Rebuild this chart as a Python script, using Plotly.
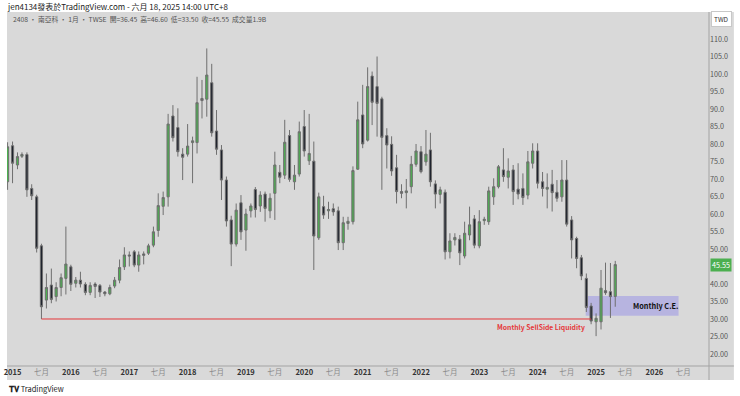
import plotly.graph_objects as go
import pandas as pd

# ---------------- data (monthly OHLC, 2408 南亞科) ----------------
opens = [69.2, 79.5, 74.0, 76.5, 77.0, 67.3, 64.9, 50.9, 35.4, 39.7,
         36.4, 39.0, 41.6, 44.9, 40.2, 41.1, 39.9, 37.6, 40.0, 39.6,
         37.7, 37.2, 39.4, 41.1, 44.9, 48.3, 49.2, 45.4, 48.6, 48.8,
         51.1, 55.3, 62.2, 64.9, 88.0, 84.7, 77.1, 77.1, 80.4, 80.4,
         93.0, 92.8, 97.5, 83.7, 78.3, 69.7, 58.3, 51.4, 63.2, 55.4,
         60.9, 67.0, 62.3, 65.7, 60.9, 65.9, 71.9, 71.1, 82.4, 69.2,
         71.4, 85.0, 75.2, 75.1, 53.2, 62.1, 60.9, 61.5, 60.9, 51.8,
         57.3, 57.8, 72.8, 88.3, 81.1, 99.4, 96.4, 92.9, 82.4, 79.9,
         73.2, 66.4, 66.1, 67.8, 74.2, 77.8, 74.9, 78.3, 68.6, 65.6,
         66.2, 49.2, 52.6, 52.8, 48.0, 54.0, 58.6, 50.9, 58.1, 57.8,
         64.9, 67.8, 72.6, 70.5, 72.6, 67.1, 67.3, 65.4, 74.5, 78.0,
         69.2, 67.1, 68.5, 66.2, 64.9, 69.7, 58.3, 53.0, 47.5, 41.6,
         33.7, 29.2, 29.2, 38.1, 37.8, 36.45]
highs = [80.5, 80.7, 77.6, 77.6, 77.6, 68.5, 65.5, 51.5, 43.0, 44.4,
         40.5, 43.0, 56.4, 45.5, 42.0, 43.5, 40.5, 40.5, 40.5, 40.0,
         38.0, 39.8, 42.0, 47.0, 50.5, 49.3, 49.7, 49.3, 49.3, 51.5,
         56.4, 65.9, 66.4, 88.6, 91.1, 90.2, 78.8, 85.7, 82.1, 99.2,
         98.3, 107.3, 102.9, 89.7, 79.7, 70.7, 59.5, 63.0, 65.4, 61.5,
         63.0, 67.7, 66.5, 66.4, 65.9, 77.8, 74.0, 86.9, 84.0, 74.0,
         86.4, 89.7, 88.6, 80.7, 66.1, 65.2, 63.5, 63.0, 62.1, 59.2,
         59.2, 73.6, 92.1, 96.9, 101.9, 100.7, 105.0, 93.5, 84.5, 82.2,
         76.9, 68.5, 70.0, 76.6, 80.0, 79.4, 84.0, 83.2, 69.6, 67.8,
         67.0, 54.5, 54.5, 54.0, 57.8, 62.1, 59.7, 61.1, 59.2, 67.8,
         70.2, 74.0, 78.8, 75.9, 74.0, 74.5, 71.6, 78.0, 80.2, 80.2,
         72.0, 71.6, 72.6, 69.7, 75.4, 75.4, 59.4, 53.5, 48.3, 43.0,
         34.6, 31.6, 44.0, 46.1, 46.0, 46.6]
lows = [66.9, 68.8, 72.8, 76.0, 64.9, 64.0, 49.0, 30.0, 33.0, 34.5,
        35.0, 36.5, 37.0, 38.0, 39.0, 39.0, 36.8, 36.8, 36.0, 36.3,
        36.5, 36.8, 38.8, 40.2, 44.0, 45.0, 44.8, 43.5, 45.6, 48.3,
        50.5, 53.5, 59.7, 62.1, 80.7, 76.4, 69.7, 76.4, 68.8, 77.3,
        87.3, 87.8, 82.1, 76.9, 64.0, 56.4, 45.1, 50.7, 52.6, 49.5,
        59.0, 59.0, 60.6, 57.8, 58.8, 58.3, 68.8, 70.0, 69.2, 66.9,
        70.7, 76.4, 74.0, 44.0, 52.6, 58.6, 58.6, 59.5, 49.7, 49.7,
        55.5, 57.0, 72.6, 78.8, 80.7, 85.4, 82.1, 66.9, 73.0, 70.9,
        63.0, 64.5, 61.6, 65.9, 73.5, 71.6, 73.8, 67.8, 61.6, 63.0,
        47.0, 47.3, 51.0, 45.4, 47.3, 52.5, 50.2, 50.2, 56.9, 56.9,
        62.6, 67.3, 69.2, 67.3, 62.6, 64.2, 62.6, 64.2, 73.0, 67.3,
        65.0, 61.6, 60.7, 63.5, 63.5, 56.4, 47.3, 44.5, 41.1, 32.0,
        28.5, 25.1, 27.0, 36.9, 30.3, 33.5]
closes = [79.2, 74.5, 76.4, 77.0, 66.9, 65.2, 50.2, 33.5, 39.0, 35.6,
          39.0, 41.8, 45.7, 39.9, 41.1, 40.0, 37.6, 39.6, 39.3, 37.7,
          37.2, 39.0, 41.1, 44.7, 48.3, 48.0, 45.4, 48.3, 48.2, 50.9,
          54.9, 62.4, 64.7, 85.7, 81.8, 77.8, 76.2, 79.4, 80.9, 91.8,
          92.4, 99.7, 83.2, 78.5, 69.7, 58.0, 51.4, 61.1, 54.9, 60.0,
          62.3, 61.3, 65.4, 61.6, 64.5, 74.0, 70.5, 80.5, 69.9, 71.1,
          83.5, 78.0, 77.3, 53.7, 64.9, 59.7, 61.3, 60.6, 51.8, 57.5,
          57.9, 72.4, 86.9, 80.0, 96.4, 91.9, 91.6, 81.9, 79.7, 72.3,
          66.4, 65.9, 66.6, 74.2, 78.0, 72.1, 77.1, 69.2, 65.7, 66.9,
          49.2, 52.3, 53.3, 48.9, 54.5, 56.9, 51.1, 57.8, 58.5, 66.6,
          67.8, 73.5, 70.7, 72.3, 66.4, 65.7, 64.7, 74.9, 78.0, 68.8,
          67.3, 67.6, 66.1, 64.5, 69.7, 57.1, 52.6, 47.3, 42.3, 33.3,
          29.4, 30.2, 38.8, 37.5, 36.4, 45.55]

first_month = "2014-12-01"
years = list(range(2015, 2027))
july_text = "七月"

price_ticks = [20, 25, 30, 35, 40, 50, 55, 60, 65, 70, 75, 80, 85, 90, 95, 100, 105, 110]
price_tick_text = ["20.00", "25.00", "30.00", "35.00", "40.00", "50.00", "55.0", "60.0",
                   "65.0", "70.0", "75.0", "80.0", "85.0", "90.0", "95.0", "100.0",
                   "105.0", "110.0"]

last_price = 45.55
liq_index = 7          # candle whose low is the SellSide liquidity
liq_end_index = 120
ce_top = 36.57
ce_bottom = 30.94
ce_start, ce_end = 118.9, 138.0

header_text = "jen4134發表於TradingView.com - 六月 18, 2025 14:00 UTC+8"
legend_text = "2408 · 南亞科 · 1月 · TWSE  開=36.45  高=46.60  低=33.50  收=45.55  成交量1.9B"

# ---------------- figure ----------------
W, H = 740, 396
L, R, T, B = 4, 31, 12, 30
FONT = "Noto Sans CJK TC, Noto Sans, sans-serif"
BG = "#d9d9d9"
GREEN = "#4caf50"
DARK = "#1f232d"
WICK = "#6f6f6f"

months = pd.date_range(first_month, periods=len(opens), freq="MS")
base = months[0]


def mpos(k):
    return base + pd.Timedelta(days=k * 30.4375)


fig = go.Figure()
fig.add_trace(go.Candlestick(
    x=months, open=opens, high=highs, low=lows, close=closes,
    increasing=dict(fillcolor=GREEN, line=dict(color=WICK, width=1)),
    decreasing=dict(fillcolor=DARK, line=dict(color=WICK, width=1)),
    whiskerwidth=0, showlegend=False, hoverinfo="skip",
))

tickvals, ticktext = [], []
for y in years:
    tickvals.append(pd.Timestamp(f"{y}-01-01"))
    ticktext.append(f"<b>{y}</b>")
    tickvals.append(pd.Timestamp(f"{y}-07-01"))
    ticktext.append(f"<span style='color:#8a8a8a'>{july_text}</span>")

plot_w = W - L - R
plot_h = H - T - B


def px_x(p):
    return (p - L) / plot_w


def px_y(p):
    return (H - B - p) / plot_h


shapes = [
    # grey chart pane including axes area
    dict(type="rect", xref="paper", yref="paper", x0=px_x(4), x1=px_x(734),
         y0=px_y(380), y1=px_y(12), fillcolor=BG, line=dict(width=0), layer="below"),
    # axis separators
    dict(type="line", xref="paper", yref="paper", x0=1, x1=1, y0=px_y(380), y1=1,
         line=dict(color="#a3a3a3", width=1)),
    dict(type="line", xref="paper", yref="paper", x0=0, x1=px_x(734), y0=0, y1=0,
         line=dict(color="#a3a3a3", width=1)),
    # Monthly C.E. box
    dict(type="rect", xref="x", yref="y", x0=mpos(ce_start), x1=mpos(ce_end),
         y0=ce_bottom, y1=ce_top, fillcolor="#b7b4e0", line=dict(width=0), layer="below"),
    # SellSide liquidity line
    dict(type="line", xref="x", yref="y", x0=months[liq_index], x1=months[liq_end_index],
         y0=lows[liq_index], y1=lows[liq_index], line=dict(color="#e5383b", width=1)),
]

annotations = [
    dict(text=header_text, xref="paper", yref="paper", x=px_x(2), y=px_y(6),
         xanchor="left", yanchor="middle", showarrow=False,
         font=dict(family=FONT, size=8, color="#222")),
    dict(text=legend_text, xref="paper", yref="paper", x=px_x(8), y=px_y(19),
         xanchor="left", yanchor="middle", showarrow=False,
         font=dict(family=FONT, size=6.8, color="#555")),
    dict(text="TWD", xref="paper", yref="paper", x=px_x(722), y=px_y(19),
         xanchor="center", yanchor="middle", showarrow=False, bgcolor="white",
         bordercolor="#c8c8c8", borderwidth=1, borderpad=2,
         font=dict(family=FONT, size=6.5, color="#333")),
    dict(text=f"{last_price:.2f}", xref="paper", yref="y", x=px_x(710), y=last_price,
         xanchor="left", yanchor="middle", showarrow=False, bgcolor=GREEN,
         borderpad=1, font=dict(family=FONT, size=7.2, color="white")),
    dict(text="<b>Monthly SellSide Liquidity</b>", xref="x", yref="y",
         x=mpos(119.2), y=lows[liq_index], xanchor="right", yanchor="top", yshift=-1,
         showarrow=False, font=dict(family=FONT, size=6.8, color="#e5383b")),
    dict(text="<b>Monthly C.E.</b>", xref="x", yref="y",
         x=mpos(133.2), y=(ce_top + ce_bottom) / 2, xanchor="center", yanchor="middle",
         showarrow=False, font=dict(family=FONT, size=7.3, color="#111")),
    dict(text="<b>𝐓𝐕</b> TradingView", xref="paper", yref="paper", x=px_x(4), y=px_y(388),
         xanchor="left", yanchor="middle", showarrow=False,
         font=dict(family=FONT, size=7.5, color="#222")),
]

fig.update_layout(
    width=W, height=H,
    margin=dict(l=L, r=R, t=T, b=B),
    paper_bgcolor="white", plot_bgcolor=BG,
    shapes=shapes, annotations=annotations,
    showlegend=False,
    xaxis=dict(
        type="date", range=[mpos(-0.12), mpos(144.26)],
        rangeslider=dict(visible=False),
        tickvals=tickvals, ticktext=ticktext, tickangle=0,
        showgrid=False, zeroline=False, showline=False, ticks="",
        tickfont=dict(family=FONT, size=7.5, color="#333"),
    ),
    yaxis=dict(
        side="right", range=[16.57, 117.71],
        tickvals=price_ticks, ticktext=price_tick_text,
        showgrid=False, zeroline=False, showline=False, ticks="",
        tickfont=dict(family=FONT, size=7.2, color="#555"),
    ),
)

fig.write_html("out.html", config={"displayModeBar": False},
               post_script="document.body.style.margin='0';document.body.style.overflow='hidden';")
